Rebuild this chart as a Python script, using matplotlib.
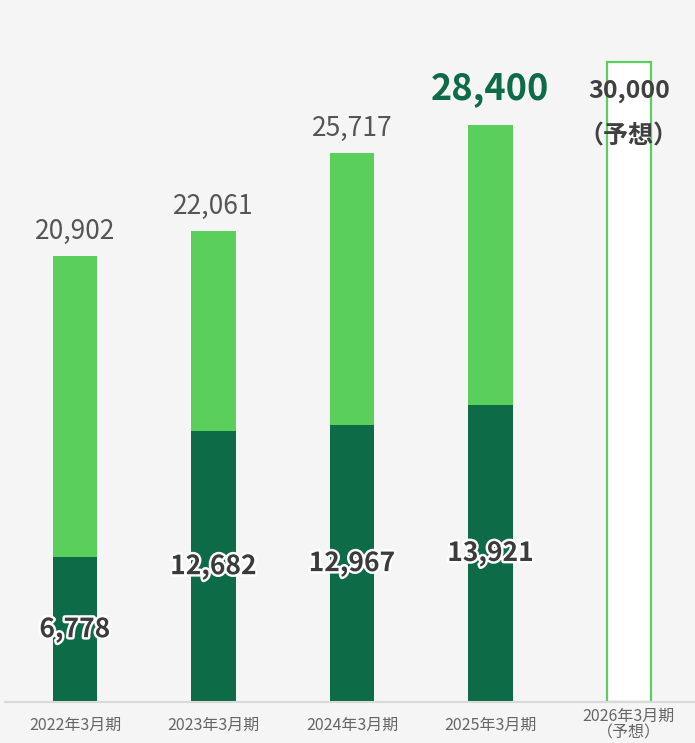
import matplotlib
matplotlib.use('Agg')
import matplotlib.pyplot as plt
import matplotlib.patheffects as pe

plt.rcParams['font.family'] = ['Noto Sans CJK JP', 'DejaVu Sans']

# data
periods = ['2022年3月期', '2023年3月期', '2024年3月期', '2025年3月期', '2026年3月期\n（予想）']
dark_vals = [6778, 12682, 12967, 13921]
bar_totals = [20902, 22061, 25717, 27040]   # drawn heights
total_labels = ['20,902', '22,061', '25,717', '28,400']
forecast = 30000

dark = '#0e6b47'
light = '#5bcf5b'
bg = '#f5f5f5'

fig = plt.figure(figsize=(6.95, 7.43), dpi=100, facecolor=bg)
ax = fig.add_axes([5 / 695, 41 / 743, 690 / 695, 702 / 743])
ax.set_facecolor(bg)

x = list(range(len(periods)))
w = 0.32
light_part = [t - d for t, d in zip(bar_totals, dark_vals)]
ax.bar(x[:4], dark_vals, width=w, color=dark, zorder=2)
ax.bar(x[:4], light_part, bottom=dark_vals, width=w, color=light, zorder=2)
ax.bar(x[4], forecast, width=w, facecolor='white', edgecolor=light, linewidth=1.6, zorder=2)

halo = [pe.withStroke(linewidth=3.5, foreground='white')]
for i, d in enumerate(dark_vals):
    ax.text(i, d / 2, f'{d:,}', ha='center', va='center', fontsize=19,
            fontweight='bold', color='#3b3b3b', path_effects=halo, zorder=4)

for i, (t, lab) in enumerate(zip(bar_totals, total_labels)):
    if i == 3:
        ax.annotate(lab, (i, t), xytext=(0, 26), textcoords='offset points',
                    ha='center', va='center', fontsize=26, fontweight='bold', color=dark)
    else:
        ax.annotate(lab, (i, t), xytext=(0, 18), textcoords='offset points',
                    ha='center', va='center', fontsize=19, color='#555555')

ax.annotate(f'{forecast:,}', (4, forecast), xytext=(0, -21), textcoords='offset points',
            ha='center', va='center', fontsize=18, fontweight='bold', color='#404040', zorder=4)
ax.annotate('（予想）', (4, forecast), xytext=(0, -54), textcoords='offset points',
            ha='center', va='center', fontsize=18, fontweight='bold', color='#404040', zorder=4)

ax.set_xlim(-0.505, 4.477)
ax.set_ylim(0, 32896)
ax.set_yticks([])
ax.set_xticks(x)
ax.set_xticklabels(periods, fontsize=11.5, color='#666666', linespacing=0.95, va='center')
ax.tick_params(axis='x', length=0, pad=16.5)
for s in ['top', 'right', 'left']:
    ax.spines[s].set_visible(False)
ax.spines['bottom'].set_color('#d9d9d9')
ax.spines['bottom'].set_linewidth(1.5)

plt.savefig('out.png', dpi=100, facecolor=bg)
